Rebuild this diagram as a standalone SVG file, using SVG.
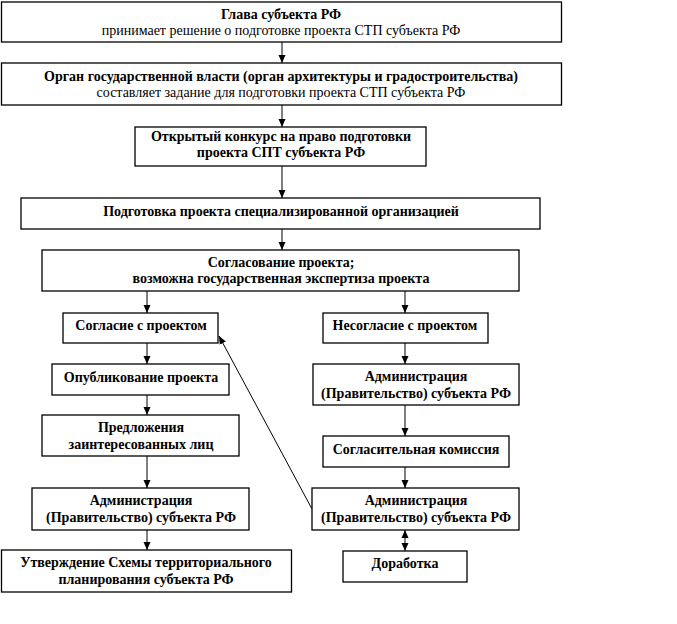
<svg xmlns="http://www.w3.org/2000/svg" width="677" height="624" viewBox="0 0 677 624">
<defs>
<style>
.b{fill:#fff;stroke:#000;stroke-width:1.3}
text{font-family:"Liberation Serif","Times New Roman",serif;font-size:14px;text-anchor:middle;fill:#000}
.t{font-weight:bold}
.c{stroke:#000;stroke-width:1;fill:none}
</style>
<marker id="ah" markerWidth="8" markerHeight="8" refX="8" refY="4" orient="auto-start-reverse" markerUnits="userSpaceOnUse">
<path d="M0,0.5 L8,4 L0,7.5 Z" fill="#000"/>
</marker>
</defs>
<rect width="677" height="624" fill="#fff"/>
<g id="connectors">
<line class="c" x1="282" y1="42" x2="282" y2="63" marker-end="url(#ah)"/>
<line class="c" x1="282" y1="105" x2="282" y2="127" marker-end="url(#ah)"/>
<line class="c" x1="282" y1="166" x2="282" y2="198" marker-end="url(#ah)"/>
<line class="c" x1="282" y1="229" x2="282" y2="250" marker-end="url(#ah)"/>
<line class="c" x1="147" y1="291" x2="147" y2="313" marker-end="url(#ah)"/>
<line class="c" x1="405" y1="291" x2="405" y2="313" marker-end="url(#ah)"/>
<line class="c" x1="147" y1="343" x2="147" y2="364" marker-end="url(#ah)"/>
<line class="c" x1="147" y1="395" x2="147" y2="415" marker-end="url(#ah)"/>
<line class="c" x1="147" y1="456" x2="147" y2="488" marker-end="url(#ah)"/>
<line class="c" x1="147" y1="530" x2="147" y2="550" marker-end="url(#ah)"/>
<line class="c" x1="405" y1="343" x2="405" y2="364" marker-end="url(#ah)"/>
<line class="c" x1="405" y1="405" x2="405" y2="436" marker-end="url(#ah)"/>
<line class="c" x1="405" y1="467" x2="405" y2="488" marker-end="url(#ah)"/>
<line class="c" x1="405" y1="530" x2="405" y2="551" marker-start="url(#ah)" marker-end="url(#ah)"/>
<line class="c" x1="312" y1="509" x2="219" y2="336" marker-end="url(#ah)"/>
</g>
<g id="n1"><rect class="b" x="1.5" y="2" width="560" height="40"/>
<text class="t" x="281" y="19">Глава субъекта РФ</text>
<text x="281" y="35">принимает решение о подготовке проекта СТП субъекта РФ</text></g>
<g id="n2"><rect class="b" x="1.5" y="63" width="560" height="42"/>
<text class="t" x="281" y="81">Орган государственной власти (орган архитектуры и градостроительства)</text>
<text x="281" y="97">составляет задание для подготовки проекта СТП субъекта РФ</text></g>
<g id="n3"><rect class="b" x="135" y="127" width="291" height="39"/>
<text class="t" x="281" y="141">Открытый конкурс на право подготовки</text>
<text class="t" x="281" y="157">проекта СПТ субъекта РФ</text></g>
<g id="n4"><rect class="b" x="21" y="198" width="519" height="31"/>
<text class="t" x="281" y="216">Подготовка проекта специализированной организацией</text></g>
<g id="n5"><rect class="b" x="42" y="250" width="477" height="41"/>
<text class="t" x="281" y="267">Согласование проекта;</text>
<text class="t" x="281" y="283">возможна государственная экспертиза проекта</text></g>
<g id="l1"><rect class="b" x="63" y="313" width="155" height="30"/>
<text class="t" x="141" y="329.5">Согласие с проектом</text></g>
<g id="l2"><rect class="b" x="52" y="364" width="177" height="31"/>
<text class="t" x="141" y="382">Опубликование проекта</text></g>
<g id="l3"><rect class="b" x="42" y="415" width="197" height="41"/>
<text class="t" x="141" y="432">Предложения</text>
<text class="t" x="141" y="449">заинтересованных лиц</text></g>
<g id="l4"><rect class="b" x="32" y="488" width="217" height="42"/>
<text class="t" x="141" y="505">Администрация</text>
<text class="t" x="141" y="522">(Правительство) субъекта РФ</text></g>
<g id="l5"><rect class="b" x="1.5" y="550" width="290" height="42"/>
<text class="t" x="146" y="567">Утверждение Схемы территориального</text>
<text class="t" x="146" y="584">планирования субъекта РФ</text></g>
<g id="r1"><rect class="b" x="323" y="313" width="165" height="30"/>
<text class="t" x="405" y="329.5">Несогласие с проектом</text></g>
<g id="r2"><rect class="b" x="313" y="364" width="206" height="41"/>
<text class="t" x="416" y="381">Администрация</text>
<text class="t" x="416" y="398">(Правительство) субъекта РФ</text></g>
<g id="r3"><rect class="b" x="323" y="436" width="186" height="31"/>
<text class="t" x="416" y="454">Согласительная комиссия</text></g>
<g id="r4"><rect class="b" x="312" y="488" width="207" height="42"/>
<text class="t" x="416" y="505">Администрация</text>
<text class="t" x="416" y="522">(Правительство) субъекта РФ</text></g>
<g id="r5"><rect class="b" x="343" y="551" width="124" height="31"/>
<text class="t" x="405" y="567.5">Доработка</text></g>
</svg>
